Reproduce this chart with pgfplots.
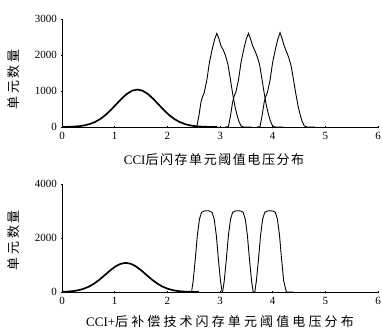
\documentclass[border=0pt]{standalone}
\usepackage{fontspec}
\setmainfont{Liberation Serif}
\newfontfamily\cjk{Noto Sans CJK SC}
\newfontfamily\cjkA{Noto Sans CJK SC}[LetterSpace=12]
\newfontfamily\cjkB{Noto Sans CJK SC}[LetterSpace=24]
\newfontfamily\cjkC{Noto Sans CJK SC}[LetterSpace=20]
\usepackage{pgfplots}
\pgfplotsset{compat=1.18}
\begin{document}
\begin{tikzpicture}
\useasboundingbox (0,0) rectangle (382bp,331bp);
\pgfplotsset{
  common/.style={
    scale only axis, width=316bp, height=108bp,
    axis lines=left, axis line style={-, line width=0.7pt},
    xmin=0, xmax=6, ymin=0,
    xtick={0,1,2,3,4,5,6},
    tick style={black, line width=0.5pt}, major tick length=3pt,
    tick label style={font=\fontsize{11bp}{12bp}\selectfont},
    /pgf/number format/assume math mode=true,
    /pgf/number format/1000 sep={},
    clip=false,
  }
}
\begin{axis}[common, at={(62bp,204bp)}, anchor=south west,
  ymax=3000, ytick={0,1000,2000,3000},
  xlabel={\fontsize{13bp}{14bp}\selectfont CCI\cjkA 后闪存单元阈值电压分布},
  xlabel style={at={(axis description cs:0.481,0)}, anchor=center, yshift=-32.5bp},
  ylabel={\fontsize{13bp}{14bp}\selectfont\cjkC 单元数量},
  ylabel style={at={(axis description cs:0,0.44)}, anchor=center, yshift=48bp},
]
% Gaussian (erased state)
\addplot[black, line width=1.7pt] coordinates {
(0,0) (0.03,2) (0.13,5) (0.23,12) (0.33,24) (0.43,46) (0.53,83) (0.63,141) (0.73,225)
(0.83,338) (0.93,476) (1.03,631) (1.13,785) (1.23,918) (1.33,1008) (1.43,1040)
(1.53,1008) (1.63,918) (1.73,785) (1.83,631) (1.93,476) (2.03,338) (2.13,225)
(2.23,141) (2.33,83) (2.43,46) (2.53,24) (2.63,12) (2.73,5) (2.83,2) (2.95,0)};
% Peak 1
\addplot[black, line width=0.9pt] coordinates {
(2.50,0) (2.56,10) (2.60,320) (2.64,700) (2.67,850) (2.70,950) (2.75,1300) (2.80,1800)
(2.85,2150) (2.90,2450) (2.94,2600) (2.98,2450) (3.02,2250) (3.06,2150) (3.10,2000)
(3.15,1750) (3.20,1300) (3.24,930) (3.28,600) (3.32,350) (3.36,150) (3.40,30) (3.45,0) (3.6,0)};
% Peak 2
\addplot[black, line width=0.9pt] coordinates {
(3.10,0) (3.16,10) (3.20,320) (3.24,700) (3.27,860) (3.30,960) (3.35,1300) (3.40,1800)
(3.45,2150) (3.50,2450) (3.54,2600) (3.58,2450) (3.62,2250) (3.66,2130) (3.70,1980)
(3.75,1750) (3.80,1300) (3.84,930) (3.88,600) (3.92,350) (3.96,150) (4.00,30) (4.05,0) (4.2,0)};
% Peak 3
\addplot[black, line width=0.9pt] coordinates {
(3.70,0) (3.76,10) (3.80,320) (3.84,700) (3.87,850) (3.90,960) (3.95,1300) (4.00,1800)
(4.05,2150) (4.10,2450) (4.14,2620) (4.18,2450) (4.22,2250) (4.26,2100) (4.30,1950)
(4.35,1700) (4.40,1280) (4.44,920) (4.48,600) (4.52,350) (4.56,150) (4.60,30) (4.65,0) (4.8,0)};
\end{axis}

\begin{axis}[common, at={(62bp,39bp)}, anchor=south west,
  ymax=4000, ytick={0,2000,4000},
  xlabel={\fontsize{13bp}{14bp}\selectfont CCI+\cjkB 后补偿技术闪存单元阈值电压分布},
  xlabel style={at={(axis description cs:0.5,0)}, anchor=center, yshift=-30bp},
  ylabel={\fontsize{13bp}{14bp}\selectfont\cjkC 单元数量},
  ylabel style={at={(axis description cs:0,0.48)}, anchor=center, yshift=48bp},
]
\addplot[black, line width=1.7pt] coordinates {
(0,5) (0.01,7) (0.11,16) (0.21,34) (0.31,65) (0.41,118) (0.51,198) (0.61,311) (0.71,455)
(0.81,621) (0.91,791) (1.01,941) (1.11,1043) (1.21,1080) (1.31,1043) (1.41,941)
(1.51,791) (1.61,621) (1.71,455) (1.81,311) (1.91,198) (2.01,118) (2.11,65)
(2.21,34) (2.31,16) (2.41,7) (2.51,3) (2.6,0)};
% Peak 1
\addplot[black, line width=0.9pt] coordinates {
(2.40,0) (2.46,0) (2.49,400) (2.53,1200) (2.57,2100) (2.61,2700) (2.65,2950) (2.70,3000)
(2.75,3010) (2.80,3000) (2.85,2950) (2.89,2700) (2.93,2100) (2.97,1200) (3.01,400) (3.04,0)};
% Peak 2
\addplot[black, line width=0.9pt] coordinates {
(3.04,0) (3.05,0) (3.08,400) (3.12,1200) (3.16,2100) (3.20,2700) (3.24,2950) (3.29,3000)
(3.34,3010) (3.39,3000) (3.44,2950) (3.48,2700) (3.52,2100) (3.56,1200) (3.60,400) (3.63,0)};
% Peak 3
\addplot[black, line width=0.9pt] coordinates {
(3.63,0) (3.66,0) (3.69,400) (3.73,1200) (3.77,2100) (3.81,2700) (3.85,2950) (3.90,3000)
(3.95,3010) (4.00,3000) (4.05,2950) (4.09,2700) (4.13,2100) (4.17,1200) (4.21,400) (4.26,0) (4.4,0)};
\end{axis}
\end{tikzpicture}
\end{document}
